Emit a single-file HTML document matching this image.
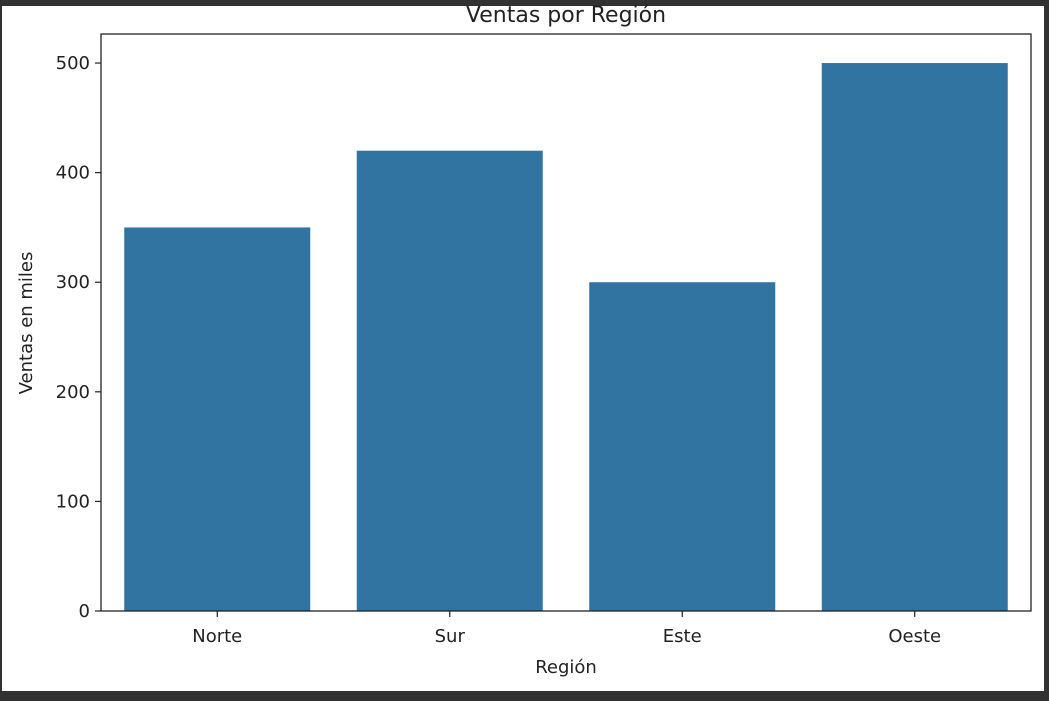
<!DOCTYPE html>
<html><head><meta charset="utf-8"><style>
html,body{margin:0;padding:0;background:#323232;}
svg{display:block;font-family:"DejaVu Sans","Liberation Sans",sans-serif;}
</style></head><body>
<svg id="chart" width="1049" height="701">
<rect x="2" y="6" width="1042" height="685" fill="#ffffff"/>
<text x="566" y="22" font-size="22" text-anchor="middle" fill="#222">Ventas por Región</text>
<g id="plot"></g>
<text x="566" y="673" font-size="18" text-anchor="middle" fill="#222">Región</text>
<text transform="translate(32,323) rotate(-90)" font-size="18" text-anchor="middle" fill="#222">Ventas en miles</text>
</svg>
<script>
const categories = ["Norte","Sur","Este","Oeste"];
const sales = [350,420,300,500];
const yTicks = [0,100,200,300,400,500];
const L=101,R=1031,T=34,B=611,yMax=526.5;
const xs=i=>L+(i+0.5)*(R-L)/categories.length;
const ys=v=>B-v*(B-T)/yMax;
const bw=0.8*(R-L)/categories.length;
const g=document.getElementById('plot');
const NS='http://www.w3.org/2000/svg';
function mk(t,a){const e=document.createElementNS(NS,t);for(const k in a)e.setAttribute(k,a[k]);g.appendChild(e);return e;}
sales.forEach((v,i)=>{
 const r=mk('rect',{x:xs(i)-bw/2,y:ys(v),width:bw,height:B-ys(v),fill:'#3274a1'});
 
 
 const tk=mk('line',{x1:xs(i),x2:xs(i),y1:B,y2:B+6,stroke:'#222','stroke-width':1.2});
 
 
 const t=mk('text',{x:xs(i),y:B+31,'font-size':18,'text-anchor':'middle',fill:'#222'});
 t.textContent=categories[i];
 
 
});
yTicks.forEach(v=>{
 const tk=mk('line',{x1:L-6,x2:L,y1:ys(v),y2:ys(v),stroke:'#222','stroke-width':1.2});
 
 
 const t=mk('text',{x:L-11,y:ys(v)+6,'font-size':18,'text-anchor':'end',fill:'#222'});
 t.textContent=v;
 
 
});
const f=mk('rect',{x:L,y:T,width:R-L,height:B-T,fill:'none',stroke:'#222','stroke-width':1.3});


</script>
</body></html>
